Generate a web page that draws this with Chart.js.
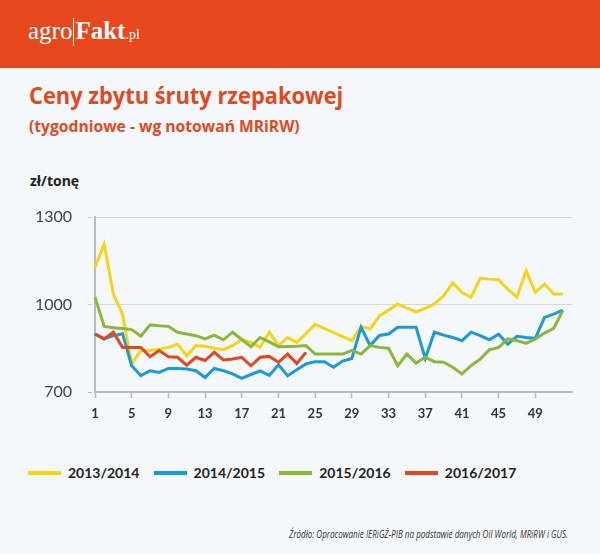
<!DOCTYPE html>
<html>
<head>
<meta charset="utf-8">
<script src="https://cdn.jsdelivr.net/npm/chart.js@4.4.0/dist/chart.umd.min.js"></script>
<style>
  html, body { margin: 0; padding: 0; }
  body { width: 600px; height: 554px; background: #f4f8fb; position: relative; overflow: hidden; font-family: "Open Sans", sans-serif; }
  #header { position: absolute; left: 0; top: 0; width: 600px; height: 68px; background: #e8481e; }
  #logo { position: absolute; left: 28px; top: 17px; color: #fff; font-family: "Liberation Serif", serif; font-size: 25px; white-space: nowrap; }
  #logo .sep { display: inline-block; width: 1px; height: 28px; background: #fff; vertical-align: -7px; margin: 0 1px; }
  #logo b { font-weight: bold; }
  #logo small { font-size: 14px; }
  .fit { position: absolute; white-space: nowrap; transform-origin: 0 0; }
  #title { left: 29px; top: 78px; font-size: 24px; font-weight: 700; color: #e04a1f; }
  #subtitle { left: 29px; top: 115px; font-size: 16px; font-weight: 700; color: #e04a1f; }
  #unit { position: absolute; left: 30px; top: 171px; font-size: 14px; font-weight: 700; color: #222; }
  #chart { position: absolute; left: 0; top: 0; }
  #legend { position: absolute; left: 0; top: 463px; width: 600px; height: 20px; }
  .item { position: absolute; top: 0; height: 20px; font-family: Lato, sans-serif; font-weight: 700; font-size: 14px; color: #222; line-height: 20px; }
  .item i { position: absolute; left: 0; top: 8px; width: 33px; height: 4px; }
  .item span { position: absolute; left: 40px; top: 0; white-space: nowrap; }
  #source { left: 289px; top: 527px; font-size: 10px; font-style: italic; color: #333; }
</style>
</head>
<body>
<div id="header"><div id="logo">agro<span class="sep"></span><b>Fakt</b><small>.pl</small></div></div>
<div id="title" class="fit" data-w="314">Ceny zbytu śruty rzepakowej</div>
<div id="subtitle" class="fit" data-w="271">(tygodniowe - wg notowań MRiRW)</div>
<div id="unit">zł/tonę</div>
<canvas id="chart" width="600" height="440"></canvas>
<div id="legend"></div>
<div id="source" class="fit" data-w="279">Źródło: Opracowanie IERiGŻ-PIB na podstawie danych Oil World, MRiRW i GUS.</div>
<script>
// tygodnie 1..53 (dane do 52)
const weeks = Array.from({length: 53}, (_, i) => String(i + 1));
const yTicks = [700, 1000, 1300];

const seasons = ["2013/2014", "2014/2015", "2015/2016", "2016/2017"];
const colors = ["#f7d417", "#1c9ad8", "#8cb83a", "#e2481f"];

const s2013 = [1127, 1207, 1036, 967, 797, 842, 842, 847, 853, 864, 824, 859, 857,
  850, 845, 859, 879, 870, 853, 905, 859, 887, 870, 900, 932, 918,
  904, 890, 876, 925, 916, 961, 980, 1002, 988, 975, 987, 1002, 1030,
  1074, 1042, 1025, 1090, 1087, 1085, 1053, 1025, 1116, 1042, 1070, 1036, 1036];
const s2014 = [899, 882, 893, 900, 790, 756, 773, 767, 781, 781, 779, 773, 750,
  781, 773, 762, 747, 760, 772, 757, 793, 756, 776, 796, 804, 804,
  785, 806, 815, 922, 859, 894, 899, 922, 922, 922, 815, 905, 895,
  887, 876, 905, 893, 879, 898, 864, 891, 887, 884, 956, 967, 981];
const s2015 = [1025, 925, 920, 918, 914, 891, 930, 927, 925, 905, 899, 893, 882,
  895, 879, 905, 880, 855, 887, 872, 855, 856, 857, 859, 830, 830,
  830, 830, 843, 830, 859, 853, 850, 790, 830, 799, 819, 804, 802,
  785, 762, 790, 813, 845, 853, 882, 876, 867, 882, 902, 918, 979];
const s2016 = [899, 882, 905, 853, 853, 853, 821, 842, 821, 819, 792, 819, 808,
  836, 810, 813, 819, 790, 819, 822, 802, 830, 798, 836];

const series = [s2013, s2014, s2015, s2016];

// legenda
const legend = document.getElementById("legend");
legend.innerHTML = seasons.map((s, i) =>
  `<div class="item" style="left:${28 + i * 125.6}px"><i style="background:${colors[i]}"></i><span>${s}</span></div>`
).join('');

// dopasowanie szerokości tekstów
document.querySelectorAll(".fit").forEach(el => {
  const w = +el.dataset.w;
  el.style.transform = `scaleX(${w / el.offsetWidth})`;
});

const axisColor = "#b9bcbf";
const gridColor = "#d3d6da";

new Chart(document.getElementById("chart"), {
  type: "line",
  data: {
    labels: weeks,
    datasets: series.map((d, i) => ({
      label: seasons[i],
      data: d,
      borderColor: colors[i],
      backgroundColor: colors[i],
      borderWidth: 3,
      pointRadius: 0,
      tension: 0,
      fill: false,
      order: 4 - i
    }))
  },
  options: {
    responsive: false,
    animation: false,
    events: [],
    layout: { padding: { left: 0, right: 28, top: 217, bottom: 0 } },
    plugins: { legend: { display: false }, tooltip: { enabled: false } },
    scales: {
      x: {
        type: "category",
        offset: false,
        afterFit: s => { s.height = 48; },
        border: { display: true, color: axisColor, width: 2 },
        grid: {
          drawOnChartArea: false,
          tickLength: 6,
          tickWidth: 1.5,
          tickColor: c => (c.index % 4 === 0 && c.index < 52) ? axisColor : "rgba(0,0,0,0)"
        },
        ticks: {
          autoSkip: false,
          maxRotation: 0,
          padding: 8,
          color: "#333",
          font: { family: "Lato", size: 13, weight: "bold" },
          callback: (v, i) => (i % 4 === 0 && i < 52) ? weeks[i] : ""
        }
      },
      y: {
        min: 700,
        max: 1300,
        afterFit: s => { s.width = 95; },
        afterBuildTicks: s => { s.ticks = yTicks.map(v => ({ value: v })); },
        border: { display: true, color: axisColor, width: 2 },
        grid: {
          color: c => c.tick && c.tick.value === 700 ? "rgba(0,0,0,0)" : gridColor,
          lineWidth: 1,
          borderDash: [4, 4],
          tickBorderDash: [4, 4],
          tickLength: 7,
          tickColor: c => c.tick && c.tick.value === 700 ? axisColor : gridColor
        },
        ticks: {
          padding: 16,
          color: "#444",
          font: { family: "Lato", size: 16 },
          callback: v => String(v)
        }
      }
    }
  }
});
</script>
</body>
</html>
